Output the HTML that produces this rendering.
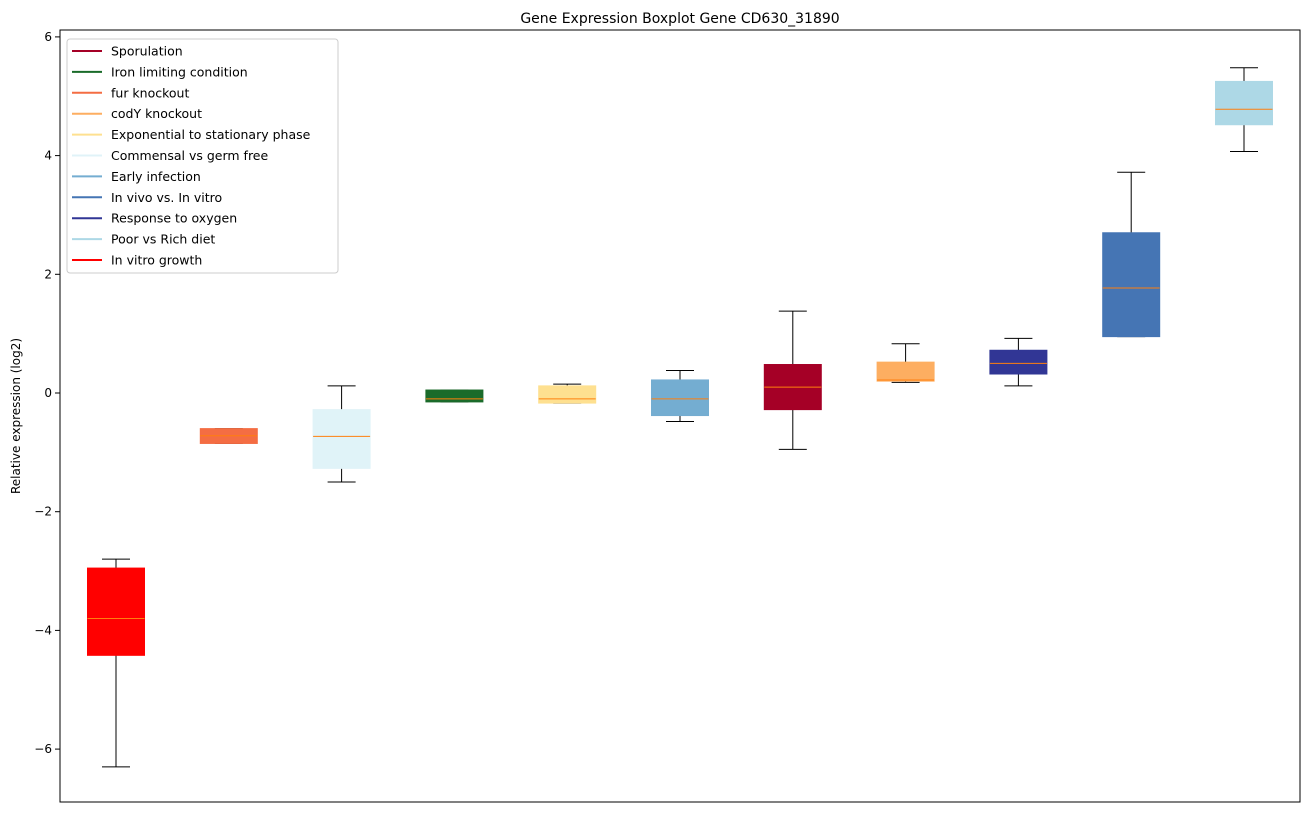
<!DOCTYPE html>
<html><head><meta charset="utf-8"><style>
body{margin:0;background:#fff;font-family:"Liberation Sans","DejaVu Sans",sans-serif}
svg text{font-family:"DejaVu Sans","Liberation Sans",sans-serif}
</style></head><body>
<svg id="chart" width="1309" height="812" xmlns="http://www.w3.org/2000/svg">
<rect x="0" y="0" width="1309" height="812" fill="#fff"/>
<text x="680" y="23" font-size="14" text-anchor="middle">Gene Expression Boxplot Gene CD630_31890</text>
<text transform="translate(20,416) rotate(-90)" font-size="12" text-anchor="middle">Relative expression (log2)</text>
<g id="boxes"></g>
<g id="yticks"></g>
<rect x="60" y="30" width="1240" height="772" fill="none" stroke="#000" stroke-width="1"/>
<g id="legend"></g>
</svg>
<script>
const categories=["In vitro growth","fur knockout","Commensal vs germ free","Iron limiting condition","Exponential to stationary phase","Early infection","Sporulation","codY knockout","Response to oxygen","In vivo vs. In vitro","Poor vs Rich diet"];
const colors=["#ff0000","#f46d43","#e0f3f8","#1a6b2a","#fee090","#74add1","#a50026","#fdae61","#313695","#4575b4","#add8e6"];
const whiskerLow=[-6.3,-0.85,-1.5,-0.15,-0.17,-0.48,-0.95,0.18,0.12,0.95,4.07];
const q1=[-4.42,-0.85,-1.27,-0.15,-0.17,-0.38,-0.28,0.2,0.32,0.95,4.52];
const medians=[-3.8,-0.72,-0.73,-0.1,-0.1,-0.1,0.1,0.22,0.5,1.77,4.78];
const q3=[-2.95,-0.6,-0.28,0.05,0.12,0.22,0.48,0.52,0.72,2.7,5.25];
const whiskerHigh=[-2.8,-0.6,0.12,0.05,0.15,0.38,1.38,0.83,0.92,3.72,5.48];
const yTicks=[-6,-4,-2,0,2,4,6];
const legendLabels=["Sporulation","Iron limiting condition","fur knockout","codY knockout","Exponential to stationary phase","Commensal vs germ free","Early infection","In vivo vs. In vitro","Response to oxygen","Poor vs Rich diet","In vitro growth"];
const legendColors=["#a50026","#1a6b2a","#f46d43","#fdae61","#fee090","#e0f3f8","#74add1","#4575b4","#313695","#add8e6","#ff0000"];

const NS="http://www.w3.org/2000/svg";
const y=v=>393-v*59.35;
const x=i=>116+i*112.8;
function mk(tag,attrs,parent){const e=document.createElementNS(NS,tag);for(const k in attrs)e.setAttribute(k,attrs[k]);parent.appendChild(e);return e;}
const gb=document.getElementById('boxes');
categories.forEach((c,i)=>{
 const g=mk('g',{},gb);
 
 
 const cx=x(i),hw=28.5,cw=14;
 mk('line',{x1:cx,x2:cx,y1:y(q3[i]),y2:y(whiskerHigh[i]),stroke:'#000'},g);
 mk('line',{x1:cx,x2:cx,y1:y(q1[i]),y2:y(whiskerLow[i]),stroke:'#000'},g);
 mk('line',{x1:cx-cw,x2:cx+cw,y1:y(whiskerHigh[i]),y2:y(whiskerHigh[i]),stroke:'#000'},g);
 mk('line',{x1:cx-cw,x2:cx+cw,y1:y(whiskerLow[i]),y2:y(whiskerLow[i]),stroke:'#000'},g);
 mk('rect',{x:cx-hw,y:y(q3[i]),width:2*hw,height:Math.max(1,y(q1[i])-y(q3[i])),fill:colors[i],stroke:colors[i]},g);
 mk('line',{x1:cx-hw,x2:cx+hw,y1:y(medians[i]),y2:y(medians[i]),stroke:'#ff7f0e'},g);
});
const gy=document.getElementById('yticks');
yTicks.forEach(t=>{
 mk('line',{x1:55,x2:60,y1:y(t),y2:y(t),stroke:'#000'},gy);
 const tx=mk('text',{x:52,y:y(t)+4,'font-size':12,'text-anchor':'end'},gy);
 
 
 tx.textContent=t<0?'\u2212'+Math.abs(t):t;
});
const gl=document.getElementById('legend');


mk('rect',{x:67,y:39,width:271,height:234,rx:3,fill:'#fff','fill-opacity':0.8,stroke:'#ccc'},gl);
legendLabels.forEach((l,i)=>{
 const yy=51+i*20.9;
 const e=mk('g',{},gl);
 
 
 mk('line',{x1:72,x2:102,y1:yy,y2:yy,stroke:legendColors[i],'stroke-width':2},e);
 const t=mk('text',{x:111,y:yy+4.5,'font-size':12.5},e);
 t.textContent=l;
});
</script>
</body></html>
